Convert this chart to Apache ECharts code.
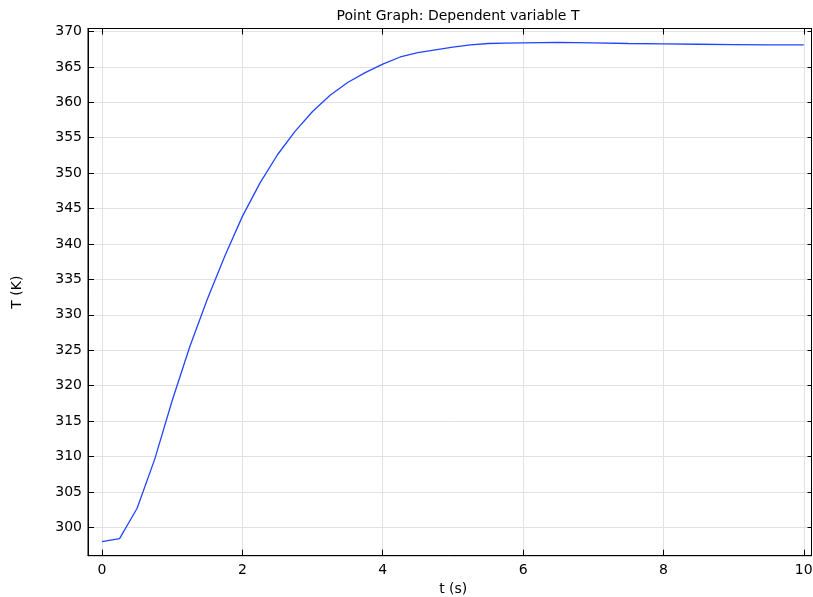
<!DOCTYPE html>
<html>
<head>
<meta charset="utf-8">
<script src="https://cdn.jsdelivr.net/npm/echarts@6/dist/echarts.min.js"></script>
<style>
  html, body { margin: 0; padding: 0; background: #fff; }
  #main { width: 813px; height: 597px; }
</style>
</head>
<body>
<div id="main"></div>
<script>
// time steps (s) and temperature (K)
var times = [0, 0.25, 0.5, 0.75, 1, 1.25, 1.5, 1.75, 2, 2.25, 2.5, 2.75, 3, 3.25, 3.5, 3.75,
             4, 4.25, 4.5, 4.75, 5, 5.25, 5.5, 5.75, 6, 6.5, 7, 7.5, 8, 8.5, 9, 9.5, 10];
var temps = [298.0, 298.4, 302.7, 309.6, 317.9, 325.5, 332.2, 338.3, 343.9, 348.6, 352.6, 355.9,
             358.7, 361.0, 362.8, 364.2, 365.4, 366.4, 367.0, 367.4, 367.8, 368.1, 368.3, 368.35,
             368.4, 368.45, 368.4, 368.3, 368.25, 368.2, 368.15, 368.1, 368.1];
var xTicks = [0, 2, 4, 6, 8, 10];
var yTicks = [300, 305, 310, 315, 320, 325, 330, 335, 340, 345, 350, 355, 360, 365, 370];

var font = 'DejaVu Sans';
var myChart = echarts.init(document.getElementById('main'));

var pts = times.map(function (t, i) { return [t, temps[i]]; });

var xBase = { type: 'value', min: -0.2, max: 10.11 };
var yBase = { type: 'value', min: 296, max: 370.42 };

var option = {
    animation: false,
    title: {
        text: 'Point Graph: Dependent variable T',
        left: 453,
        textAlign: 'center',
        top: 4,
        textStyle: { fontFamily: font, fontSize: 14, fontWeight: 'normal', color: '#000' }
    },
    grid: {
        left: 88, top: 28.5, right: 1.5, bottom: 41.3,
        outerBoundsMode: 'none',
        show: true, borderColor: '#000', borderWidth: 1
    },
    xAxis: [
        Object.assign({}, xBase, {
            position: 'bottom',
            name: 't (s)',
            nameLocation: 'middle',
            nameGap: 22,
            nameTextStyle: { fontFamily: font, fontSize: 14, color: '#000', padding: [0, 0, 0, 7] },
            axisLine: { show: true, onZero: false, lineStyle: { color: '#000' } },
            axisTick: { show: true, inside: true, length: 6, customValues: xTicks, lineStyle: { color: '#000' } },
            axisLabel: { customValues: xTicks, fontFamily: font, fontSize: 14, color: '#000', margin: 8 },
            splitLine: { show: true, lineStyle: { color: '#e2e2e2' } }
        }),
        Object.assign({}, xBase, {
            position: 'top',
            axisLine: { show: true, onZero: false, lineStyle: { color: '#000' } },
            axisTick: { show: true, inside: true, length: 6, customValues: xTicks, lineStyle: { color: '#000' } },
            axisLabel: { show: false },
            splitLine: { show: false }
        })
    ],
    yAxis: [
        Object.assign({}, yBase, {
            position: 'left',
            name: 'T (K)',
            nameLocation: 'middle',
            nameGap: 64,
            nameTextStyle: { fontFamily: font, fontSize: 14, color: '#000' },
            axisLine: { show: true, onZero: false, lineStyle: { color: '#000' } },
            axisTick: { show: true, inside: true, length: 6, customValues: yTicks, lineStyle: { color: '#000' } },
            axisLabel: { customValues: yTicks, fontFamily: font, fontSize: 14, color: '#000', margin: 6 },
            splitLine: { show: true, lineStyle: { color: '#e2e2e2' } }
        }),
        Object.assign({}, yBase, {
            position: 'right',
            axisLine: { show: true, onZero: false, lineStyle: { color: '#000' } },
            axisTick: { show: true, inside: true, length: 4, customValues: yTicks, lineStyle: { color: '#000' } },
            axisLabel: { show: false },
            splitLine: { show: false }
        })
    ],
    series: [{
        type: 'line',
        data: pts,
        showSymbol: false,
        lineStyle: { color: '#2244ff', width: 1.3 }
    }]
};
myChart.setOption(option);
</script>
</body>
</html>
